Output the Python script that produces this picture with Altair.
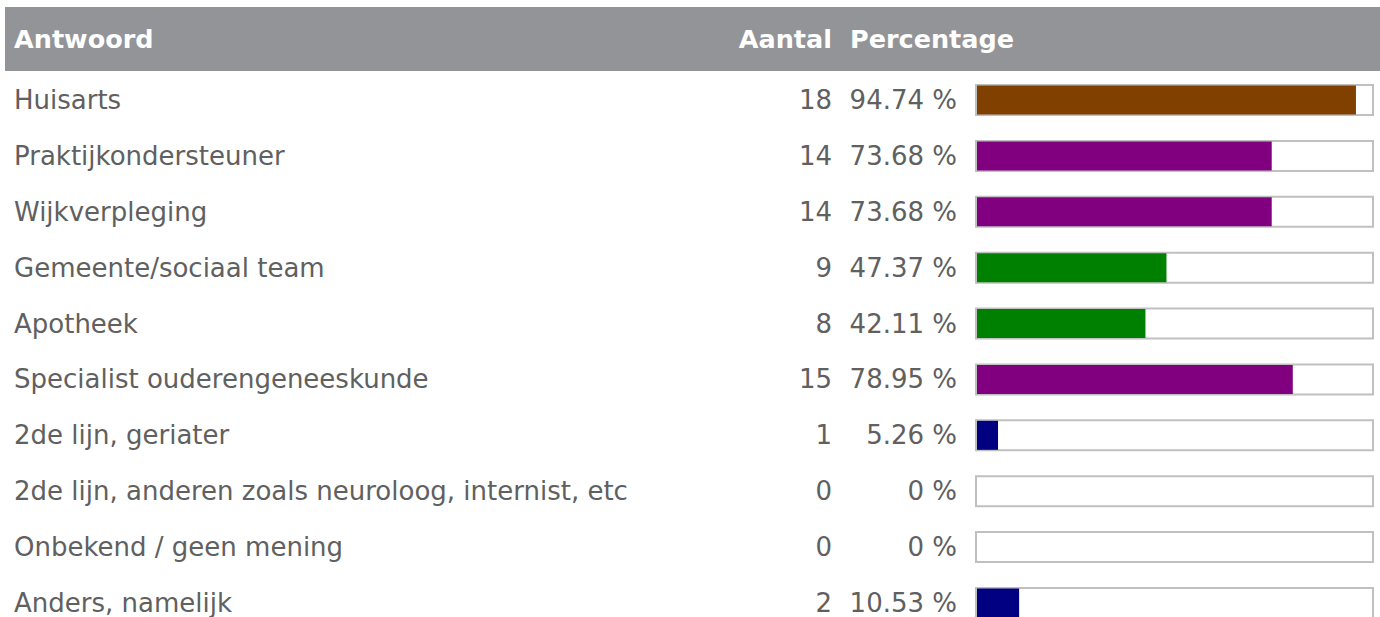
import altair as alt
import pandas as pd

answers = [
    "Huisarts",
    "Praktijkondersteuner",
    "Wijkverpleging",
    "Gemeente/sociaal team",
    "Apotheek",
    "Specialist ouderengeneeskunde",
    "2de lijn, geriater",
    "2de lijn, anderen zoals neuroloog, internist, etc",
    "Onbekend / geen mening",
    "Anders, namelijk",
]
counts = [18, 14, 14, 9, 8, 15, 1, 0, 0, 2]
percentages = [94.74, 73.68, 73.68, 47.37, 42.11, 78.95, 5.26, 0, 0, 10.53]
headers = ["Antwoord", "Aantal", "Percentage"]

df = pd.DataFrame({
    "answer": answers,
    "count": counts,
    "pct": percentages,
    "pct_label": [("0 %" if p == 0 else f"{p:.2f} %") for p in percentages],
})

FONT = "DejaVu Sans"
TXT = "#606060"
FS = 26

y_enc = alt.Y("answer:N", sort=answers, axis=None,
              scale=alt.Scale(type="point", domain=answers, range=[100, 603], padding=0))
x_scale = alt.Scale(domain=[0, 100], range=[977, 1377], nice=False, zero=True)

base = alt.Chart(df)

header_bg = alt.Chart(alt.Data(values=[{}])).mark_rect(color="#939497").encode(
    x=alt.value(5), x2=alt.value(1380), y=alt.value(7), y2=alt.value(71)
)

def header_text(txt, x, align):
    return alt.Chart(alt.Data(values=[{}])).mark_text(
        text=txt, font=FONT, fontSize=25.5, fontWeight="bold", color="white",
        align=align, baseline="middle"
    ).encode(x=alt.value(x), y=alt.value(40))

labels = base.mark_text(font=FONT, fontSize=FS, color=TXT, align="left", baseline="middle", dy=1).encode(
    x=alt.value(14), y=y_enc, text="answer:N"
)
count_txt = base.mark_text(font=FONT, fontSize=FS, color=TXT, align="right", baseline="middle", dy=1).encode(
    x=alt.value(832), y=y_enc, text="count:Q"
)
pct_txt = base.mark_text(font=FONT, fontSize=FS, color=TXT, align="right", baseline="middle", dy=1).encode(
    x=alt.value(957), y=y_enc, text="pct_label:N"
)

# empty outlined box behind each bar (0 to 99 in data units)
box = base.transform_calculate(box_end="99").mark_bar(
    fill="white", stroke="#c0c0c0", strokeWidth=2, height=30
).encode(
    x=alt.X("box_end:Q", scale=x_scale, axis=None),
    x2=alt.datum(-0.25),
    y=y_enc,
)

bars = base.mark_bar(height=29).encode(
    x=alt.X("pct:Q", scale=x_scale, axis=None),
    x2=alt.datum(0),
    y=y_enc,
    color=alt.Color("pct:Q", legend=None,
                    scale=alt.Scale(type="threshold", domain=[20, 60, 80],
                                    range=["#000080", "#008000", "#800080", "#804000"])),
)

chart = alt.layer(
    header_bg,
    header_text(headers[0], 14, "left"),
    header_text(headers[1], 832, "right"),
    header_text(headers[2], 850, "left"),
    labels, count_txt, pct_txt, box, bars,
).properties(
    width=1380, height=617, padding=0,
    autosize=alt.AutoSizeParams(type="none"),
).configure_view(stroke=None).resolve_scale(x="shared", y="shared")

chart.save("out.html", embed_options={"renderer": "svg", "actions": False})
